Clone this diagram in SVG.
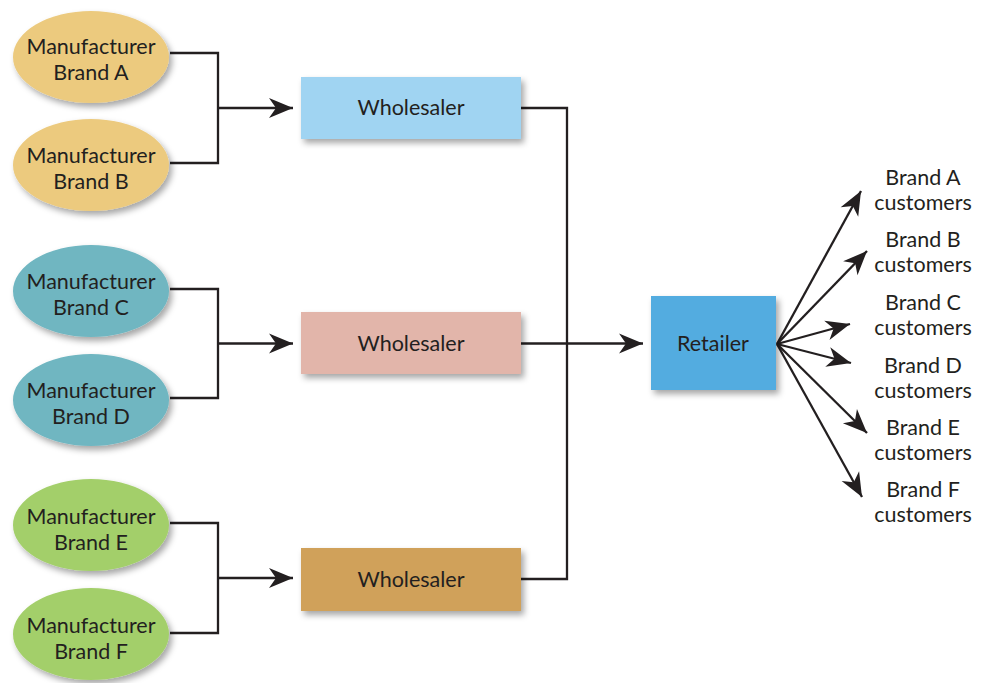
<svg xmlns="http://www.w3.org/2000/svg" width="982" height="683" viewBox="0 0 982 683">
  <defs>
    <filter id="shadow" x="-20%" y="-20%" width="150%" height="160%">
      <feDropShadow dx="3" dy="4" stdDeviation="3" flood-color="#000" flood-opacity="0.35"/>
    </filter>
    <marker id="arrow" markerUnits="userSpaceOnUse" markerWidth="26" markerHeight="24" viewBox="-25 -12 26 24" refX="0" refY="0" orient="auto">
      <path d="M0,0 L-24,-10 L-17,0 L-24,10 Z" fill="#231f20"/>
    </marker>
  </defs>
  <style>
    text { font-family: "Lato", "Open Sans", "Liberation Sans", sans-serif; font-size: 21.5px; fill: #231f20; text-anchor: middle; }
    .line { fill: none; stroke: #231f20; stroke-width: 2.3; }
    .ab { fill: #ecca7e; }
    .cd { fill: #6fb6c1; }
    .ef { fill: #a3cf6b; }
  </style>
  <rect width="982" height="683" fill="#ffffff"/>

  <!-- connectors -->
  <g id="connectors">
    <polyline class="line" points="170,53 218,53 218,163 170,163"/>
    <line class="line" x1="218" y1="108" x2="293" y2="108" marker-end="url(#arrow)"/>
    <polyline class="line" points="170,289 218,289 218,398 170,398"/>
    <line class="line" x1="218" y1="343.5" x2="293" y2="343.5" marker-end="url(#arrow)"/>
    <polyline class="line" points="170,523 218,523 218,633 170,633"/>
    <line class="line" x1="218" y1="578" x2="293" y2="578" marker-end="url(#arrow)"/>
    <polyline class="line" points="521,108 567,108 567,579 521,579"/>
    <line class="line" x1="521" y1="343.5" x2="643" y2="343.5" marker-end="url(#arrow)"/>
    <line class="line" x1="777" y1="344" x2="861" y2="191" marker-end="url(#arrow)"/>
    <line class="line" x1="777" y1="344" x2="867" y2="251" marker-end="url(#arrow)"/>
    <line class="line" x1="777" y1="344" x2="850" y2="324" marker-end="url(#arrow)"/>
    <line class="line" x1="777" y1="344" x2="851" y2="363" marker-end="url(#arrow)"/>
    <line class="line" x1="777" y1="344" x2="867" y2="433" marker-end="url(#arrow)"/>
    <line class="line" x1="777" y1="344" x2="862" y2="497" marker-end="url(#arrow)"/>
  </g>

  <!-- manufacturers -->
  <g id="mfr-a">
    <ellipse class="ab" cx="91" cy="57" rx="78" ry="46" filter="url(#shadow)"/>
    <text x="91" y="54">Manufacturer</text>
    <text x="91" y="80">Brand A</text>
  </g>
  <g id="mfr-b">
    <ellipse class="ab" cx="91" cy="165" rx="78" ry="46" filter="url(#shadow)"/>
    <text x="91" y="163">Manufacturer</text>
    <text x="91" y="189">Brand B</text>
  </g>
  <g id="mfr-c">
    <ellipse class="cd" cx="91" cy="291" rx="78" ry="46" filter="url(#shadow)"/>
    <text x="91" y="289">Manufacturer</text>
    <text x="91" y="315">Brand C</text>
  </g>
  <g id="mfr-d">
    <ellipse class="cd" cx="91" cy="400" rx="78" ry="46" filter="url(#shadow)"/>
    <text x="91" y="398">Manufacturer</text>
    <text x="91" y="424">Brand D</text>
  </g>
  <g id="mfr-e">
    <ellipse class="ef" cx="91" cy="525" rx="78" ry="46" filter="url(#shadow)"/>
    <text x="91" y="524">Manufacturer</text>
    <text x="91" y="550">Brand E</text>
  </g>
  <g id="mfr-f">
    <ellipse class="ef" cx="91" cy="634" rx="78" ry="46" filter="url(#shadow)"/>
    <text x="91" y="633">Manufacturer</text>
    <text x="91" y="659">Brand F</text>
  </g>

  <!-- wholesalers -->
  <g id="wholesaler-1">
    <rect x="301" y="77" width="220" height="62" fill="#a0d4f2" filter="url(#shadow)"/>
    <text x="411" y="115">Wholesaler</text>
  </g>
  <g id="wholesaler-2">
    <rect x="301" y="312" width="220" height="62" fill="#e2b5aa" filter="url(#shadow)"/>
    <text x="411" y="351">Wholesaler</text>
  </g>
  <g id="wholesaler-3">
    <rect x="301" y="548" width="220" height="63" fill="#d0a15a" filter="url(#shadow)"/>
    <text x="411" y="587">Wholesaler</text>
  </g>

  <!-- retailer -->
  <g id="retailer">
    <rect x="651" y="296" width="125" height="94" fill="#52ace0" filter="url(#shadow)"/>
    <text x="713" y="351">Retailer</text>
  </g>

  <!-- customer groups -->
  <g id="cust-a"><text x="923" y="185">Brand A</text><text x="923" y="210">customers</text></g>
  <g id="cust-b"><text x="923" y="247">Brand B</text><text x="923" y="272">customers</text></g>
  <g id="cust-c"><text x="923" y="310">Brand C</text><text x="923" y="335">customers</text></g>
  <g id="cust-d"><text x="923" y="373">Brand D</text><text x="923" y="398">customers</text></g>
  <g id="cust-e"><text x="923" y="435">Brand E</text><text x="923" y="460">customers</text></g>
  <g id="cust-f"><text x="923" y="497">Brand F</text><text x="923" y="522">customers</text></g>
</svg>
